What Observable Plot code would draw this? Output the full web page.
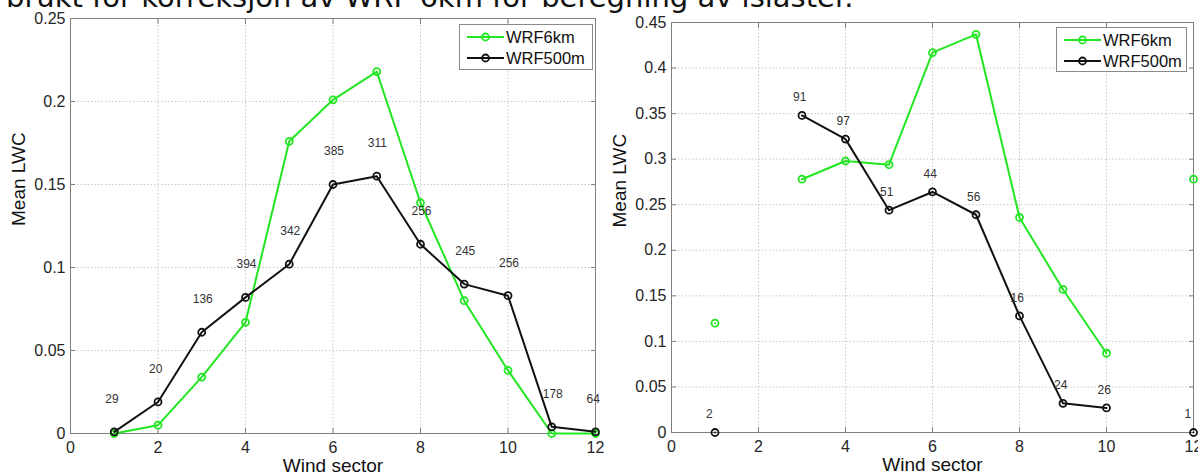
<!DOCTYPE html>
<html>
<head>
<meta charset="utf-8">
<script src="https://cdn.jsdelivr.net/npm/d3@7"></script>
<script src="https://cdn.jsdelivr.net/npm/@observablehq/plot@0.6"></script>
<style>
  html, body { margin: 0; padding: 0; background: #fff; }
  #page { position: relative; width: 1198px; height: 472px; overflow: hidden; background: #fff;
          font-family: "Liberation Sans", Arial, sans-serif; }
  #title { position: absolute; left: 6px; top: -17px; font-family: "DejaVu Sans", sans-serif;
           font-size: 29px; line-height: 29px; white-space: nowrap; color: #111; }
  .panel { position: absolute; top: 0; }
  .panel svg { overflow: visible; }
  .legend { position: absolute; background: #fff; border: 1px solid #8a8a8a; box-sizing: border-box; }
  .legend .row { position: absolute; left: 0; height: 20px; width: 100%; }
  .legend .row svg { position: absolute; left: 6px; top: 4px; }
  .legend .row span { position: absolute; left: 46px; top: 0; line-height: 20px; font-size: 16.5px; color: #111; white-space: nowrap; }
</style>
</head>
<body>
<div id="page">
  <div id="title">brukt for korreksjon av WRF 6km for beregning av islaster.</div>
  <div class="panel" id="left" style="left:0px"></div>
  <div class="panel" id="right" style="left:600px"></div>
</div>
<script>
// ---- data ----
const sectors = [1, 2, 3, 4, 5, 6, 7, 8, 9, 10, 11, 12];
const seriesNames = ["WRF6km", "WRF500m"];

const leftWRF6km  = [0.000, 0.005, 0.034, 0.067, 0.176, 0.201, 0.218, 0.139, 0.080, 0.038, 0.000, 0.000];
const leftWRF500m = [0.001, 0.019, 0.061, 0.082, 0.102, 0.150, 0.155, 0.114, 0.090, 0.083, 0.004, 0.001];
const leftCounts  = [29, 20, 136, 394, 342, 385, 311, 256, 245, 256, 178, 64];

const rightWRF6km  = [0.120, NaN, 0.278, 0.298, 0.294, 0.417, 0.437, 0.236, 0.157, 0.087, NaN, 0.278];
const rightWRF500m = [0.000, NaN, 0.348, 0.322, 0.244, 0.264, 0.239, 0.128, 0.032, 0.027, NaN, 0.000];
const rightCounts  = [2, null, 91, 97, 51, 44, 56, 16, 24, 26, null, 1];

const xTicks = [0, 2, 4, 6, 8, 10, 12];
const yTicksLeft  = [0, 0.05, 0.1, 0.15, 0.2, 0.25];
const yTicksRight = [0, 0.05, 0.1, 0.15, 0.2, 0.25, 0.3, 0.35, 0.4, 0.45];

const xLabel = "Wind sector";
const yLabel = "Mean LWC";

// ---- style ----
const GREEN = "#22e622";
const BLACK = "#111111";
const FRAME = "#7f7f7f";
const GRID = "#c8c8c8";
const TEXT = "#262626";

const fmt = d => String(+d.toFixed(2));

function panel(o) {
  const d6 = sectors.map((x, i) => ({x, y: o.s6[i]}));
  const d5 = sectors.map((x, i) => ({x, y: o.s5[i]}));
  const dc = sectors.map((x, i) => ({x, y: o.s5[i], c: o.counts[i]})).filter(d => d.c != null);
  return Plot.plot({
    width: o.width, height: 472,
    marginLeft: o.ml, marginRight: o.mr, marginTop: o.mt, marginBottom: o.mb,
    x: {domain: [0, 12]},
    y: {domain: [0, o.yMax]},
    style: {fontFamily: '"Liberation Sans", Arial, sans-serif', background: "transparent", overflow: "visible"},
    marks: [
      Plot.gridX(xTicks, {stroke: GRID, strokeOpacity: 1, strokeDasharray: "1.5,2"}),
      Plot.gridY(o.yTicks, {stroke: GRID, strokeOpacity: 1, strokeDasharray: "1.5,2"}),
      Plot.axisX(xTicks, {anchor: "bottom", tickSize: 0, tickPadding: 8, tickFormat: d => String(d), fontSize: 16, color: TEXT, label: null}),
      Plot.axisY(o.yTicks, {anchor: "left", tickSize: 0, tickPadding: 5, tickFormat: fmt, fontSize: 16, color: TEXT, label: null}),
      Plot.axisX(xTicks, {anchor: "bottom", tickSize: -5, tickFormat: () => "", color: FRAME, label: null}),
      Plot.axisX(xTicks, {anchor: "top", tickSize: -5, tickFormat: () => "", color: FRAME, label: null}),
      Plot.axisY(o.yTicks, {anchor: "left", tickSize: -5, tickFormat: () => "", color: FRAME, label: null}),
      Plot.axisY(o.yTicks, {anchor: "right", tickSize: -5, tickFormat: () => "", color: FRAME, label: null}),
      Plot.frame({stroke: FRAME}),
      Plot.line(d6, {x: "x", y: "y", stroke: GREEN, strokeWidth: 2}),
      Plot.dot(d6, {x: "x", y: "y", r: 3.5, stroke: GREEN, strokeWidth: 1.8, fill: "none"}),
      Plot.line(d5, {x: "x", y: "y", stroke: BLACK, strokeWidth: 2}),
      Plot.dot(d5, {x: "x", y: "y", r: 3.5, stroke: BLACK, strokeWidth: 1.8, fill: "none"}),
      Plot.text(dc, {x: "x", y: "y", text: "c", textAnchor: "start", dx: -9, dy: o.labelDy, fontSize: 12, fill: "#333"}),
      Plot.text([xLabel], {frameAnchor: "bottom", lineAnchor: "middle", dy: 32, fontSize: 19, fill: "#111"}),
      Plot.text([yLabel], {frameAnchor: "left", lineAnchor: "middle", dx: -52, rotate: -90, fontSize: 19, fill: "#111"})
    ]
  });
}

function legend(host, left, top, w, h, rowTops) {
  const box = document.createElement("div");
  box.className = "legend";
  Object.assign(box.style, {left: left + "px", top: top + "px", width: w + "px", height: h + "px"});
  const colors = [GREEN, BLACK];
  seriesNames.forEach((name, i) => {
    const row = document.createElement("div");
    row.className = "row";
    row.style.top = rowTops[i] + "px";
    row.innerHTML = `<svg width="40" height="12"><line x1="1" y1="6" x2="38" y2="6" stroke="${colors[i]}" stroke-width="2"/><circle cx="19.5" cy="6" r="3.5" fill="none" stroke="${colors[i]}" stroke-width="1.8"/></svg><span>${name}</span>`;
    box.appendChild(row);
  });
  host.appendChild(box);
}

const page = document.getElementById("page");

document.getElementById("left").appendChild(panel({
  width: 600, ml: 70, mr: 5, mt: 18, mb: 39, yMax: 0.25, yTicks: yTicksLeft,
  s6: leftWRF6km, s5: leftWRF500m, counts: leftCounts, labelDy: -33
}));
document.getElementById("right").appendChild(panel({
  width: 598, ml: 71, mr: 5, mt: 22, mb: 40, yMax: 0.45, yTicks: yTicksRight,
  s6: rightWRF6km, s5: rightWRF500m, counts: rightCounts, labelDy: -18
}));

legend(page, 459, 24, 134, 46, [2, 23]);
legend(page, 1056, 27, 131, 45, [2, 23]);
</script>
</body>
</html>
